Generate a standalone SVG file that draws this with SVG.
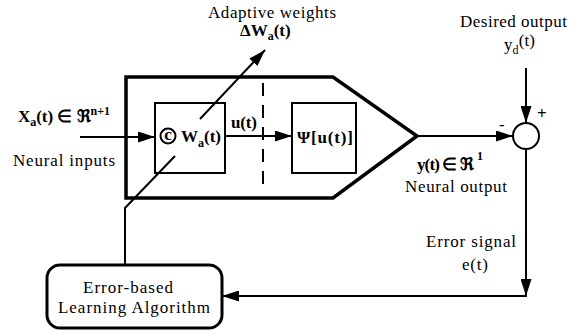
<svg xmlns="http://www.w3.org/2000/svg" width="586" height="333" viewBox="0 0 586 333">
<style>
text{font-family:"Liberation Serif","Times New Roman",serif;font-size:17px;fill:#000}
.b{font-weight:bold}
.sub{font-size:12px}
.ln{fill:none;stroke:#000;stroke-width:2}
.thick{fill:none;stroke:#000;stroke-width:3.5;stroke-linejoin:miter}
.box{fill:#fff;stroke:#000;stroke-width:2}
</style>
<defs>
<marker id="ah" markerWidth="17" markerHeight="11" refX="17" refY="5.5" orient="auto" markerUnits="userSpaceOnUse">
<path d="M0,0 L17,5.5 L0,11 Z" fill="#000"/>
</marker>
</defs>
<g id="network">
<path class="thick" d="M126,77 L333,77 L417,136 L333,198 L126,198 Z"/>
</g>
<g id="weights">
<rect class="box" x="155" y="103" width="70" height="70"/>
<circle cx="168" cy="136" r="7.5" fill="none" stroke="#000" stroke-width="2"/>
<text x="168" y="140" class="b" font-size="12" text-anchor="middle">c</text>
<text x="181" y="142" class="b" font-size="18">W<tspan class="sub" font-size="13" dy="5">a</tspan><tspan dy="-5">(t)</tspan></text>
</g>
<g id="activation">
<rect class="box" x="292" y="103" width="64" height="70"/>
<text x="297" y="143" class="b" textLength="56">Ψ[u(t)]</text>
</g>
<g id="sum">
<circle cx="526" cy="136" r="13" fill="#fff" stroke="#000" stroke-width="2"/>
<text x="499" y="130" font-size="14">-</text>
<text x="537" y="119" class="b" font-size="15">+</text>
</g>
<g id="learning">
<rect x="47" y="265" width="175" height="63" rx="13" ry="13" fill="#fff" stroke="#000" stroke-width="3"/>
<text x="128" y="293" text-anchor="middle" textLength="90">Error-based</text>
<text x="134" y="313" text-anchor="middle" textLength="152">Learning Algorithm</text>
</g>
<g id="connectors">
<line class="ln" x1="80" y1="137" x2="155" y2="137" marker-end="url(#ah)"/>
<line class="ln" x1="225" y1="136" x2="292" y2="136" marker-end="url(#ah)"/>
<line class="ln" x1="417" y1="136" x2="513" y2="136" marker-end="url(#ah)"/>
<line class="ln" x1="526" y1="68" x2="526" y2="123" marker-end="url(#ah)"/>
<line class="ln" x1="526" y1="149" x2="526" y2="296" marker-end="url(#ah)"/>
<line class="ln" x1="527" y1="296" x2="222" y2="296" marker-end="url(#ah)"/>
<polyline class="ln" points="125,265 125,208 175,156"/>
<line class="ln" x1="200" y1="119" x2="265" y2="50" marker-end="url(#ah)"/>
<line x1="263" y1="83" x2="263" y2="184" stroke="#000" stroke-width="2" stroke-dasharray="13,9"/>
</g>
<g id="labels">
<text x="208" y="18" textLength="128">Adaptive weights</text>
<text x="240" y="36" class="b" font-size="19">ΔW<tspan class="sub" font-size="13" dy="4">a</tspan><tspan dy="-4">(t)</tspan></text>
<text x="460" y="27" textLength="107">Desired output</text>
<text x="504" y="50" textLength="31">y<tspan class="sub" dy="4">d</tspan><tspan dy="-8">(t)</tspan></text>
<text x="18" y="122" class="b" textLength="92">X<tspan class="sub" dy="4">a</tspan><tspan dy="-4">(t) ∈ ℜ</tspan><tspan class="sub" dy="-7">n+1</tspan></text>
<text x="13" y="166" textLength="102">Neural inputs</text>
<text x="231" y="128" class="b" textLength="26">u(t)</text>
<text x="417" y="170" class="b" textLength="66">y(t) ∈ ℜ<tspan class="sub" dx="4" dy="-10">1</tspan></text>
<text x="405" y="192" textLength="102">Neural output</text>
<text x="426" y="247" textLength="90">Error signal</text>
<text x="462" y="270" textLength="26">e(t)</text>
</g>
</svg>
